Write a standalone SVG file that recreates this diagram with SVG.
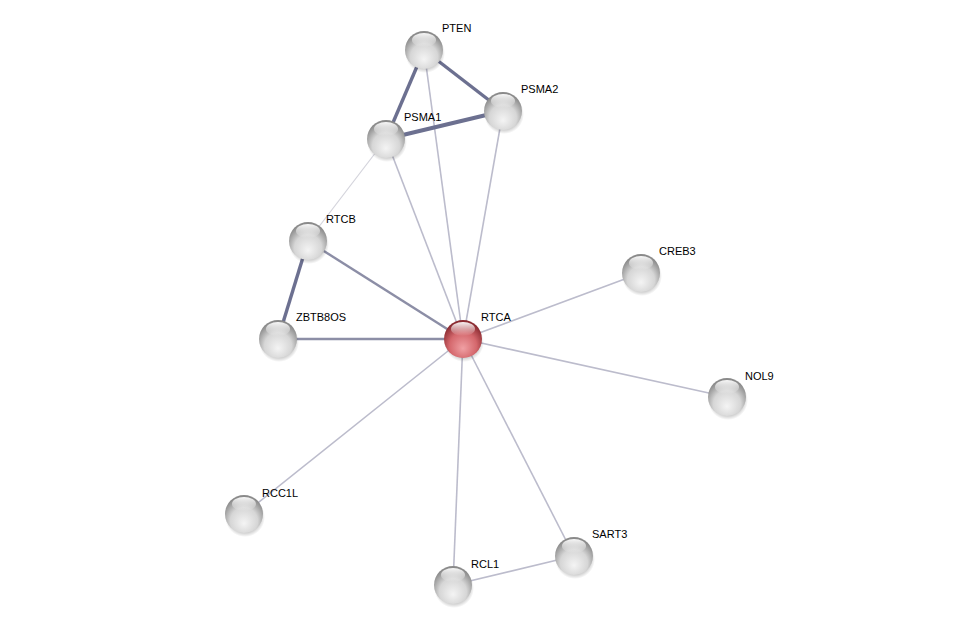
<svg xmlns="http://www.w3.org/2000/svg" width="975" height="631" viewBox="0 0 975 631">
<style>
.e1{stroke:#bcbccc;stroke-width:1.6;fill:none}
.e0{stroke:#d4d4dc;stroke-width:1.2;fill:none}
.e2{stroke:#8c8ea6;stroke-width:2.4;fill:none}
.e3{stroke:#6c7090;stroke-width:3.4;fill:none}
text{font-family:"Liberation Sans",Arial,sans-serif;font-size:11px;fill:#000}
</style>
<defs>
<radialGradient id="g" cx="50%" cy="65%" r="60%" fx="50%" fy="75%">
<stop offset="0" stop-color="#f4f4f4"/>
<stop offset="0.6" stop-color="#d6d6d6"/>
<stop offset="1" stop-color="#8a8a8a"/>
</radialGradient>
<radialGradient id="r" cx="50%" cy="65%" r="60%" fx="50%" fy="75%">
<stop offset="0" stop-color="#f0a0a4"/>
<stop offset="0.6" stop-color="#d4676c"/>
<stop offset="1" stop-color="#8a2a30"/>
</radialGradient>
<linearGradient id="h" x1="0" y1="0" x2="0" y2="1">
<stop offset="0" stop-color="#fff" stop-opacity="0.95"/>
<stop offset="1" stop-color="#fff" stop-opacity="0"/>
</linearGradient>
<radialGradient id="s" cx="50%" cy="50%" r="50%">
<stop offset="0.6" stop-color="#000" stop-opacity="0.35"/>
<stop offset="1" stop-color="#000" stop-opacity="0"/>
</radialGradient>
<g id="n">
<circle cx="1" cy="3" r="20" fill="url(#s)"/>
<circle r="19" fill="url(#g)"/>
<ellipse cx="0" cy="-10" rx="12" ry="7" fill="url(#h)"/>
</g>
<g id="nr">
<circle cx="1" cy="3" r="20" fill="url(#s)"/>
<circle r="19" fill="url(#r)"/>
<ellipse cx="0" cy="-10" rx="12" ry="7" fill="url(#h)"/>
</g>
</defs>
<rect width="975" height="631" fill="#fff"/>
<g id="edges">
<line class="e1" x1="424" y1="50" x2="463" y2="339"/>
<line class="e1" x1="503" y1="111" x2="463" y2="339"/>
<line class="e1" x1="386" y1="139" x2="463" y2="339"/>
<line class="e0" x1="386" y1="139" x2="308" y2="241"/>
<line class="e1" x1="463" y1="339" x2="641" y2="273"/>
<line class="e1" x1="463" y1="339" x2="727" y2="397"/>
<line class="e1" x1="463" y1="339" x2="244" y2="514"/>
<line class="e1" x1="463" y1="339" x2="453" y2="585"/>
<line class="e1" x1="463" y1="339" x2="574" y2="556"/>
<line class="e1" x1="453" y1="585" x2="574" y2="556"/>
<line class="e2" x1="308" y1="241" x2="463" y2="339"/>
<line class="e2" x1="278" y1="339" x2="463" y2="339"/>
<line class="e3" x1="308" y1="241" x2="278" y2="339"/>
<line class="e3" x1="424" y1="50" x2="503" y2="111"/>
<line class="e3" x1="424" y1="50" x2="386" y2="139"/>
<line class="e3" x1="386" y1="139" x2="503" y2="111" style="stroke-width:4"/>
</g>
<g id="PTEN"><use href="#n" x="424" y="50"/><text x="442" y="32">PTEN</text></g>
<g id="PSMA2"><use href="#n" x="503" y="111"/><text x="521" y="93">PSMA2</text></g>
<g id="PSMA1"><use href="#n" x="386" y="139"/><text x="404" y="121">PSMA1</text></g>
<g id="RTCB"><use href="#n" x="308" y="241"/><text x="326" y="223">RTCB</text></g>
<g id="ZBTB8OS"><use href="#n" x="278" y="339"/><text x="296" y="321">ZBTB8OS</text></g>
<g id="RTCA"><use href="#nr" x="463" y="339"/><text x="481" y="321">RTCA</text></g>
<g id="CREB3"><use href="#n" x="641" y="273"/><text x="659" y="255">CREB3</text></g>
<g id="NOL9"><use href="#n" x="727" y="397"/><text x="745" y="380">NOL9</text></g>
<g id="RCC1L"><use href="#n" x="244" y="514"/><text x="262" y="497">RCC1L</text></g>
<g id="RCL1"><use href="#n" x="453" y="585"/><text x="471" y="568">RCL1</text></g>
<g id="SART3"><use href="#n" x="574" y="556"/><text x="592" y="538">SART3</text></g>
</svg>
